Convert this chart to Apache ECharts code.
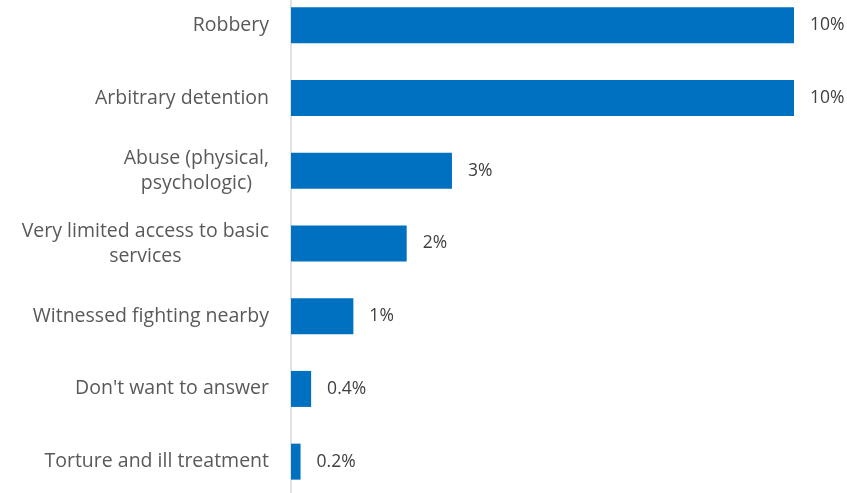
<!DOCTYPE html>
<html>
<head>
<meta charset="utf-8">
<script src="https://cdn.jsdelivr.net/npm/echarts@6/dist/echarts.min.js"></script>
<style>
html,body{margin:0;padding:0;background:#fff;overflow:hidden;width:847px;height:493px}
#c{position:absolute;left:0;top:-11px;width:847px;height:509px}
</style>
</head>
<body>
<div id="c"></div>
<script>
const categories = [
  "Robbery",
  "Arbitrary detention",
  "Abuse (physical,\npsychologic)",
  "Very limited access to basic\nservices",
  "Witnessed fighting nearby",
  "Don't want to answer",
  "Torture and ill treatment"
];
const values = [10.0, 10.0, 3.2, 2.3, 1.24, 0.4, 0.19];
const valueLabels = ["10%", "10%", "3%", "2%", "1%", "0.4%", "0.2%"];

const chart = echarts.init(document.getElementById('c'), null, {renderer: 'canvas'});
chart.setOption({
  animation: false,
  grid: {left: 291, right: 53, top: 0, bottom: 0, containLabel: false},
  xAxis: {
    type: 'value', min: 0, max: 10,
    show: false
  },
  yAxis: {
    type: 'category',
    inverse: true,
    data: categories,
    axisLine: {show: true, lineStyle: {color: '#d9d9d9', width: 1.5}},
    axisTick: {show: false},
    splitLine: {show: false},
    axisLabel: {
      margin: 22,
      color: '#595959',
      fontFamily: 'Open Sans',
      fontSize: 19.5,
      lineHeight: 25,
      formatter: function (v) {
        return v.split('\n').map(function (l) { return '{c|' + l + '}'; }).join('\n');
      },
      rich: {c: {align: 'center', color: '#595959', fontFamily: 'Open Sans', fontSize: 19.5, lineHeight: 25}}
    }
  },
  series: [{
    type: 'bar',
    data: values,
    barWidth: 36,
    itemStyle: {color: '#0070C0'},
    label: {
      show: true,
      position: 'right',
      distance: 16,
      color: '#404040',
      fontFamily: 'Open Sans',
      fontSize: 17.5,
      formatter: function (p) { return valueLabels[p.dataIndex]; }
    }
  }]
});
</script>
</body>
</html>
